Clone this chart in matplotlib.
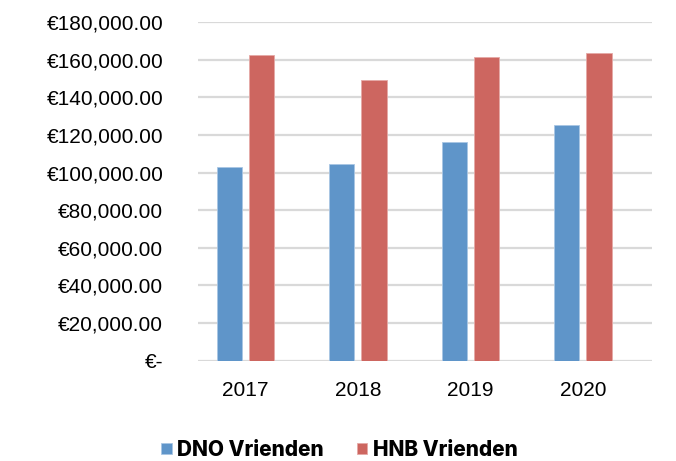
import numpy as np
import matplotlib.pyplot as plt
from matplotlib.ticker import FuncFormatter

jaren = ['2017', '2018', '2019', '2020']
dno = [102900, 104600, 116200, 125500]
hnb = [162500, 149200, 161700, 163500]

blauw = '#5F95C9'
rood = '#CD6660'

fig = plt.figure(figsize=(6.76, 4.61), dpi=100)
ax = fig.add_axes([0.293, 0.218, 0.6715, 0.7336])

x = np.arange(len(jaren))
w = 0.225
ax.bar(x - 0.1425, dno, w, color=blauw, edgecolor='#A9C6E4', linewidth=0.6, label='DNO Vrienden', zorder=3)
ax.bar(x + 0.1425, hnb, w, color=rood, edgecolor='#E6A9A6', linewidth=0.6, label='HNB Vrienden', zorder=3)

ax.set_ylim(0, 180000)
ax.set_xlim(-0.42, 3.615)
ax.set_yticks(np.arange(0, 180001, 20000))
ax.set_xticks(x)
ax.set_xticklabels(jaren)


def euro(v, pos):
    if v == 0:
        return '€-'
    return '€{:,.2f}'.format(v)


ax.yaxis.set_major_formatter(FuncFormatter(euro))
ax.grid(axis='y', color='#D9D9D9', linewidth=1.6, zorder=0)
ax.set_axisbelow(True)
for s in ax.spines.values():
    s.set_visible(False)
ax.tick_params(axis='both', length=0, labelsize=15, colors='black')
ax.tick_params(axis='y', pad=25)
ax.tick_params(axis='x', pad=15)
for lab in ax.get_xticklabels() + ax.get_yticklabels():
    lab.set_fontfamily('Liberation Sans')

leg = fig.legend(loc='center', bbox_to_anchor=(0.502, 0.024), ncol=2, frameon=False,
                 handlelength=0.5, handleheight=0.5, handletextpad=0.25, columnspacing=1.6,
                 prop={'family': 'Inter', 'weight': 'heavy', 'size': 15})

fig.savefig('out.png', dpi=100, facecolor='white')
